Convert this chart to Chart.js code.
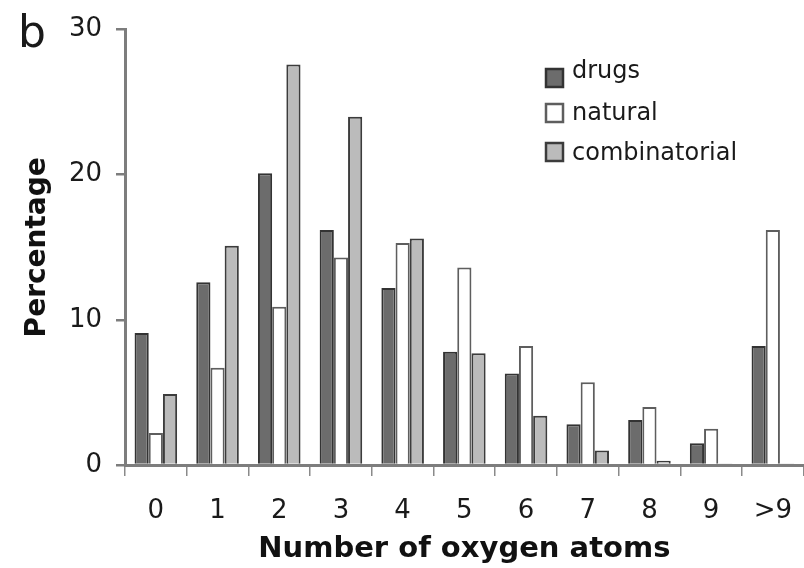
<!DOCTYPE html>
<html>
<head>
<meta charset="utf-8">
<script src="https://cdn.jsdelivr.net/npm/chart.js@4/dist/chart.umd.min.js"></script>
<style>
  html, body { margin: 0; padding: 0; background: #fff; overflow: hidden; }
  #wrap { width: 804px; height: 568px; overflow: hidden; }
  canvas { display: block; }
</style>
</head>
<body>
<div id="wrap"><canvas id="chart" width="812" height="568"></canvas></div>
<script>
// values (percent of compounds)
const categories = ['0', '1', '2', '3', '4', '5', '6', '7', '8', '9', '>9'];
const drugs = [9.1, 12.6, 20.1, 16.2, 12.2, 7.8, 6.3, 2.8, 3.1, 1.5, 8.2];
const natural = [2.2, 6.7, 10.9, 14.3, 15.3, 13.6, 8.2, 5.7, 4.0, 2.5, 16.2];
const combinatorial = [4.9, 15.1, 27.6, 24.0, 15.6, 7.7, 3.4, 1.0, 0.3, 0.1, 0.1];
const yTicks = [0, 10, 20, 30];

const FONT = "'DejaVu Sans', 'Liberation Sans', Arial, sans-serif";
Chart.defaults.font.family = FONT;
Chart.defaults.color = '#1a1a1a';

// panel letter + legend box drawn on top of the plot
const annotations = {
  id: 'annotations',
  afterDraw(chart) {
    const ctx = chart.ctx;
    ctx.save();
    ctx.fillStyle = '#1a1a1a';
    ctx.textAlign = 'left';
    ctx.textBaseline = 'alphabetic';
    ctx.font = '44px ' + FONT;
    ctx.fillText('b', 18, 47);

    const boxTops = [69, 104, 143];
    const baselines = [78, 120, 160];
    ctx.font = '24px ' + FONT;
    chart.data.datasets.forEach((ds, i) => {
      ctx.fillStyle = ds.backgroundColor;
      ctx.strokeStyle = ds.borderColor;
      ctx.lineWidth = 2.5;
      ctx.fillRect(546, boxTops[i], 17, 18);
      ctx.strokeRect(546, boxTops[i], 17, 18);
      ctx.fillStyle = '#1a1a1a';
      ctx.fillText(ds.label, 572, baselines[i]);
    });
    ctx.restore();
  }
};

const ctx = document.getElementById('chart').getContext('2d');
new Chart(ctx, {
  type: 'bar',
  data: {
    labels: categories,
    datasets: [
      { label: 'drugs', data: drugs, backgroundColor: '#6c6c6c', borderColor: '#333333' },
      { label: 'natural', data: natural, backgroundColor: '#ffffff', borderColor: '#5e5e5e' },
      { label: 'combinatorial', data: combinatorial, backgroundColor: '#bbbbbb', borderColor: '#3c3c3c' }
    ]
  },
  options: {
    responsive: false,
    animation: false,
    layout: { padding: { top: 29, left: 0, right: 0, bottom: 0 } },
    datasets: {
      bar: { borderWidth: 2, categoryPercentage: 0.69, barPercentage: 1.0 }
    },
    plugins: {
      legend: { display: false },
      tooltip: { enabled: false }
    },
    scales: {
      x: {
        afterFit(scale) { scale.height = 103; },
        grid: {
          drawOnChartArea: false,
          drawTicks: true,
          tickLength: 11,
          color: '#8a8a8a',
          lineWidth: 1.5,
          offset: true
        },
        border: { display: true, color: '#7d7d7d', width: 3 },
        ticks: { font: { size: 26 }, padding: 20, maxRotation: 0 },
        title: {
          display: true,
          text: 'Number of oxygen atoms',
          font: { size: 29, weight: 'bold' },
          color: '#111',
          padding: { top: 0, bottom: 1 }
        }
      },
      y: {
        min: 0,
        max: 30,
        afterFit(scale) { scale.width = 125; },
        afterBuildTicks(scale) { scale.ticks = yTicks.map(v => ({ value: v })); },
        grid: {
          drawOnChartArea: false,
          drawTicks: true,
          tickLength: 9,
          color: '#7d7d7d',
          lineWidth: 2.5
        },
        border: { display: true, color: '#7d7d7d', width: 3 },
        ticks: { font: { size: 26 }, padding: 14 },
        title: {
          display: true,
          text: 'Percentage',
          font: { size: 28, weight: 'bold' },
          color: '#111',
          padding: { top: 21, bottom: 0 }
        }
      }
    }
  },
  plugins: [annotations]
});
</script>
</body>
</html>
